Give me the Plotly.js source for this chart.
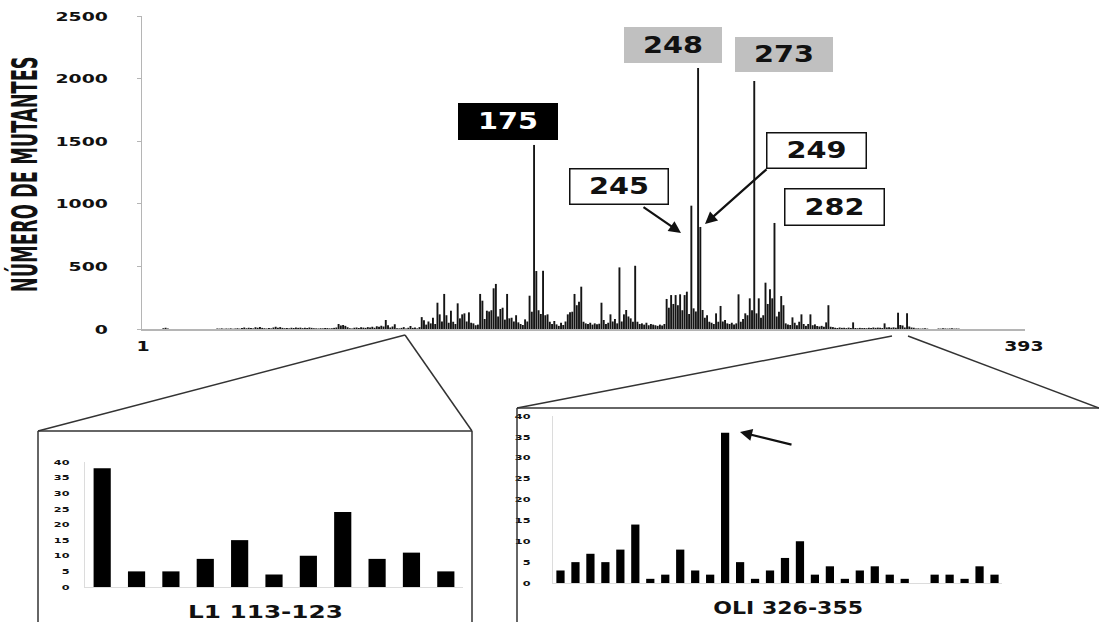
<!DOCTYPE html>
<html><head><meta charset="utf-8">
<script src="https://cdn.plot.ly/plotly-3.0.1.min.js"></script>
<style>html,body{margin:0;padding:0;background:#fff;} #chart{width:1099px;height:622px;}</style>
</head><body><div id="chart"></div>
<script>
// Main chart: number of mutants per codon (residues 1..393)
const mainCounts = [
  0,0,0,0,0,0,0,0,0,6,
  10,4,0,0,0,0,0,0,0,0,
  0,0,0,0,0,0,0,0,0,0,
  0,0,0,4,3,5,2,4,3,5,
  2,4,6,3,8,12,6,10,7,5,
  14,10,16,9,6,4,8,5,12,18,
  10,15,9,6,8,5,10,8,12,9,
  11,7,10,8,12,9,6,5,4,6,
  5,8,7,5,6,9,12,40,28,32,
  25,14,6,4,10,12,8,14,11,9,
  15,12,18,10,22,18,26,20,72,30,
  12,20,38,5,5,9,15,4,10,24,
  9,11,5,15,95,70,35,60,45,90,
  40,210,117,60,280,110,50,146,58,40,
  205,85,117,125,60,133,50,45,30,35,
  280,226,80,146,140,150,325,360,100,160,
  170,75,280,85,90,60,110,53,40,32,
  77,60,266,138,1470,463,150,120,465,110,
  117,58,40,64,37,25,50,32,60,117,
  133,138,280,190,218,338,58,45,40,50,
  35,45,38,42,210,72,40,50,117,60,
  80,45,492,60,117,152,100,85,58,505,
  58,40,45,35,50,30,40,35,30,25,
  35,28,40,240,170,271,200,271,190,277,
  150,271,298,120,985,165,140,2085,815,152,
  90,110,58,50,40,125,58,184,60,72,
  45,40,50,35,45,277,58,80,125,110,
  245,150,1981,125,245,90,110,370,200,317,
  245,847,100,138,263,190,45,35,32,93,
  50,30,58,117,40,25,40,117,30,37,
  24,20,25,18,53,190,18,15,10,8,
  12,9,10,7,11,8,53,8,6,9,
  7,8,6,10,8,12,9,11,10,8,
  45,12,14,10,13,10,130,32,28,12,
  125,20,12,10,4,5,3,4,5,3,
  0,0,0,0,4,3,5,4,3,4,
  5,3,4,3,0,0,0,0,0,0,
  0,0,0,0,0,0,0,0,0,0,
  0,0,0,0,0,0,0,0,0,0,
  0,0,0
];
const mainResidues = mainCounts.map((_, i) => i + 1);
const mainTickVals = [1, 393];
const mainTickText = ['1', '393'];

// Inset L1 (residues 113-123)
const l1Residues = [113,114,115,116,117,118,119,120,121,122,123];
const l1Counts   = [38,5,5,9,15,4,10,24,9,11,5];

// Inset OLI (residues 326-355)
const oliResidues = [326,327,328,329,330,331,332,333,334,335,336,337,338,339,340,
                     341,342,343,344,345,346,347,348,349,350,351,352,353,354,355];
const oliCounts   = [3,5,7,5,8,14,1,2,8,3,2,36,5,1,3,
                     6,10,2,4,1,3,4,2,1,0,2,2,1,4,2];

// Highlighted codon labels
const hotLabels = ['175','248','273','245','249','282'];

const yTitle = 'NÚMERO DE MUTANTES';
const l1Title = 'L1 113-123';
const oliTitle = 'OLI 326-355';

const W = 1099, H = 622;
const px = x => x / W;
const py = y => 1 - y / H;

const boldFont = (size, color) => ({family: 'DejaVu Sans, Liberation Sans, sans-serif', size: size, color: color || '#111', weight: 'bold'});

const traces = [
  {type:'bar', x: mainResidues, y: mainCounts, xaxis:'x', yaxis:'y', width:0.85,
   marker:{color:'#151515', line:{width:0}}, hoverinfo:'none'},
  {type:'bar', x: l1Residues, y: l1Counts, xaxis:'x2', yaxis:'y2', width:0.5,
   marker:{color:'#000', line:{width:0}}, hoverinfo:'none'},
  {type:'bar', x: oliResidues, y: oliCounts, xaxis:'x3', yaxis:'y3', width:0.55,
   marker:{color:'#000', line:{width:0}}, hoverinfo:'none'}
];

const boxes = [
  {t: hotLabels[0], x0:458, x1:558, y0:103, y1:140, bg:'#000', fc:'#fff', bw:0},
  {t: hotLabels[1], x0:624, x1:722, y0:27,  y1:63,  bg:'#c0c0c0', fc:'#111', bw:0},
  {t: hotLabels[2], x0:735, x1:833, y0:37,  y1:72,  bg:'#c0c0c0', fc:'#111', bw:0},
  {t: hotLabels[3], x0:569, x1:669, y0:168, y1:205, bg:'#fff', fc:'#111', bw:1.5},
  {t: hotLabels[4], x0:766, x1:867, y0:132, y1:169, bg:'#fff', fc:'#111', bw:1.5},
  {t: hotLabels[5], x0:784, x1:885, y0:188, y1:226, bg:'#fff', fc:'#111', bw:1.5}
];

const annotations = [
  {text: yTitle, xref:'paper', yref:'paper', x: px(25), y: py(175), textangle:-90,
   showarrow:false, xanchor:'center', yanchor:'middle',
   font:{family:'DejaVu Sans Condensed, DejaVu Sans, sans-serif', size:35, color:'#111', weight:'bold'}},
  {text: l1Title, xref:'paper', yref:'paper', x: px(265), y: py(611), showarrow:false,
   xanchor:'center', yanchor:'middle', font: boldFont(18)},
  {text: oliTitle, xref:'paper', yref:'paper', x: px(788), y: py(607), showarrow:false,
   xanchor:'center', yanchor:'middle', font: boldFont(18)}
];
boxes.forEach(b => {
  annotations.push({
    text: b.t, xref:'paper', yref:'paper', x: px((b.x0+b.x1)/2), y: py((b.y0+b.y1)/2),
    showarrow:false, xanchor:'center', yanchor:'middle',
    bgcolor: b.bg, bordercolor:'#111', borderwidth: b.bw, borderpad:0,
    width: (b.x1-b.x0) - 2*b.bw, height: (b.y1-b.y0) - 2*b.bw,
    font: boldFont(23, b.fc)
  });
});
// arrows
const arrows = [
  {tip:[681,233], tail:[642,206]},
  {tip:[705,224], tail:[768,168]},
  {tip:[740,432], tail:[793,445]}
];
arrows.forEach(a => {
  annotations.push({
    text:'', xref:'paper', yref:'paper', x: px(a.tip[0]), y: py(a.tip[1]),
    ax: a.tail[0]-a.tip[0], ay: a.tail[1]-a.tip[1],
    showarrow:true, arrowhead:2, arrowsize:1.1, arrowwidth:2.2, arrowcolor:'#111',
    standoff:0, startstandoff:0
  });
});

const seg = (x0,y0,x1,y1) => ({type:'line', xref:'paper', yref:'paper',
  x0: px(x0), y0: py(y0), x1: px(x1), y1: py(y1), line:{color:'#333', width:1.5}});
const shapes = [
  seg(405,335,38,431), seg(405,335,472,431),
  seg(38,431,472,431), seg(38,431,38,622), seg(472,431,472,622),
  seg(892,336,517,408), seg(908,336,1099,408),
  seg(517,408,1099,408), seg(517,408,517,622)
];

const layout = {
  width: W, height: H,
  margin:{l:0,r:0,t:0,b:0},
  paper_bgcolor:'#fff', plot_bgcolor:'rgba(0,0,0,0)',
  showlegend:false,
  xaxis:{domain:[px(142), px(1025)], range:[0.5, 393.5], anchor:'y',
    tickmode:'array', tickvals: mainTickVals, ticktext: mainTickText,
    showline:true, linecolor:'#b5b5b5', linewidth:1.5, ticks:'', showgrid:false, zeroline:false,
    tickfont: boldFont(14), ticklabelstandoff: 4},
  yaxis:{domain:[py(329), py(16)], range:[0, 2500], anchor:'x', dtick:500,
    showline:true, linecolor:'#b5b5b5', linewidth:1.5, ticks:'outside', ticklen:4, tickcolor:'#b5b5b5',
    showgrid:false, zeroline:false, tickfont: boldFont(13), ticklabelstandoff: 26},
  xaxis2:{domain:[px(85), px(463)], range:[112.5, 123.5], anchor:'y2',
    showticklabels:false, ticks:'', showline:true, linecolor:'#dcdcdc', showgrid:false, zeroline:false},
  yaxis2:{domain:[py(587), py(462)], range:[0, 40], anchor:'x2', dtick:5,
    showline:true, linecolor:'#dcdcdc', ticks:'', showgrid:false, zeroline:false,
    tickfont: boldFont(7.5), ticklabelstandoff: 13},
  xaxis3:{domain:[px(553), px(1002)], range:[325.5, 355.5], anchor:'y3',
    showticklabels:false, ticks:'', showline:true, linecolor:'#dcdcdc', showgrid:false, zeroline:false},
  yaxis3:{domain:[py(583), py(416)], range:[0, 40], anchor:'x3', dtick:5,
    showline:true, linecolor:'#dcdcdc', ticks:'', showgrid:false, zeroline:false,
    tickfont: boldFont(7.5), ticklabelstandoff: 20},
  annotations: annotations,
  shapes: shapes
};

// horizontal stretch helper to mimic the wide lettering of the original figure
function stretch(el, sx, anchor) {
  const bb = el.getBBox();
  if (!bb.width) return;
  const ax = anchor === 'end' ? bb.x + bb.width : (anchor === 'start' ? bb.x : bb.x + bb.width / 2);
  const ay = bb.y + bb.height / 2;
  const prev = el.getAttribute('transform') || '';
  el.setAttribute('transform', prev + ' translate(' + ax + ',' + ay + ') scale(' + sx + ',1) translate(' + (-ax) + ',' + (-ay) + ')');
}
function annText(i) {
  return document.querySelector('#chart g.annotation[data-index="' + i + '"] text.annotation-text');
}

Plotly.newPlot('chart', traces, layout, {displayModeBar:false, staticPlot:true}).then(() => {
  const t = annText(0);
  if (t) stretch(t, 236 / t.getBBox().width, 'middle');
  const a1 = annText(1); if (a1) stretch(a1, 155 / a1.getBBox().width, 'middle');
  const a2 = annText(2); if (a2) stretch(a2, 150 / a2.getBBox().width, 'middle');
  for (let i = 3; i < 3 + boxes.length; i++) {
    const e = annText(i); if (e) stretch(e, 1.25, 'middle');
  }
  document.querySelectorAll('#chart g.ytick text').forEach(e => stretch(e, 1.45, 'end'));
  document.querySelectorAll('#chart g.xtick text').forEach(e => stretch(e, 1.35, 'middle'));
  document.querySelectorAll('#chart g.y2tick text, #chart g.y3tick text').forEach(e => stretch(e, 1.5, 'end'));
});
</script>
</body></html>
